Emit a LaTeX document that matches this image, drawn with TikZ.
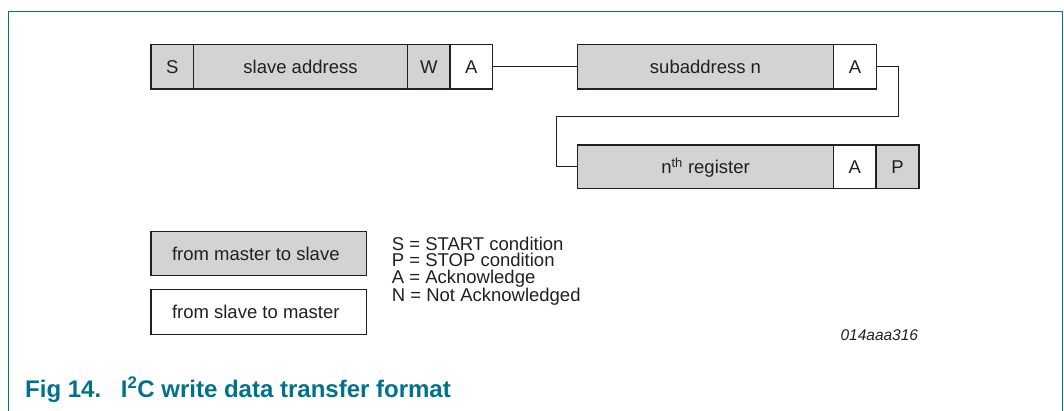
\documentclass[tikz,border=0pt]{standalone}
\usepackage{fontspec}
\setmainfont{Liberation Sans}

\definecolor{nxpteal}{HTML}{00728C}
\definecolor{boxgray}{HTML}{D1D3D4}
\definecolor{inkgray}{HTML}{231F20}

\tikzset{
	mfield/.style={draw=inkgray, line width=1.5pt, fill=boxgray, inner sep=0pt,
		minimum height=44.8pt, text height=13.2pt, text depth=0pt,
		text=inkgray, font=\fontsize{18.5}{20}\selectfont},
	sfield/.style={mfield, fill=white},
	legtext/.style={anchor=base west, inner sep=0pt, text=inkgray, align=left,
		font=\fontsize{18.5}{16.5}\selectfont},
	wire/.style={draw=inkgray, line width=0.9pt}
}

\begin{document}
\begin{tikzpicture}[x=1pt,y=-1pt]
	\useasboundingbox (0,0) rectangle (1064,411);

	% Frame
	\draw[nxpteal, line width=1.5pt] (8.3,411) -- (8.3,11.7) -- (1062.3,11.7) -- (1062.3,411);

	% First row
	\node[mfield, minimum width=42.3pt] (s) at (172.2,66.8) {S};
	\node[mfield, minimum width=214.4pt] (slave) at (300.5,66.8) {slave address};
	\node[mfield, minimum width=42.3pt] (w) at (428.8,66.8) {W};
	\node[sfield, minimum width=42.3pt] (ackone) at (471.2,66.8) {A};

	\node[mfield, minimum width=255.6pt] (sub) at (705.5,66.8) {subaddress n};
	\node[sfield, minimum width=43.4pt] (acktwo) at (855,66.8) {A};

	% Second row
	\node[mfield, minimum width=255.6pt, minimum height=43.4pt] (reg) at (705.5,166.7) {n\textsuperscript{th} register};
	\node[sfield, minimum width=42.7pt, minimum height=43.4pt] (ackthree) at (854.7,166.7) {A};
	\node[mfield, minimum width=43pt, minimum height=43.4pt] (p) at (897.5,166.7) {P};

	% Connections
	\coordinate (turnr) at (898.3,116.7);
	\coordinate (turnl) at (556,116.7);
	\draw[wire] (ackone.east) -- (sub.west);
	\draw[wire] (acktwo.east) -| (turnr) -- (turnl) |- (reg.west);

	% Legend
	\node[mfield, minimum width=215.7pt, minimum height=44pt] (tomaster) at (258.8,253.7) {from master to slave\hspace*{6pt}};
	\node[sfield, minimum width=215.7pt, minimum height=45pt] (toslave) at (258.8,311.9) {from slave to master\hspace*{6pt}};

	\node[legtext] (legend) at (391.7,301.7) {S = START condition\\P = STOP condition\\A = Acknowledge\\N = Not Acknowledged};

	\node[anchor=base east, inner sep=0pt, text=inkgray, font=\fontsize{15.5}{18}\selectfont\itshape] (code) at (918.3,340.7) {014aaa316};

	% Caption
	\node[anchor=base west, inner sep=0pt, text=nxpteal, font=\fontsize{24}{28}\selectfont\bfseries] (caption) at (25,397.3)
		{\makebox[95.7pt][l]{Fig 14.}I\textsuperscript{2}C write data transfer format};
\end{tikzpicture}
\end{document}
